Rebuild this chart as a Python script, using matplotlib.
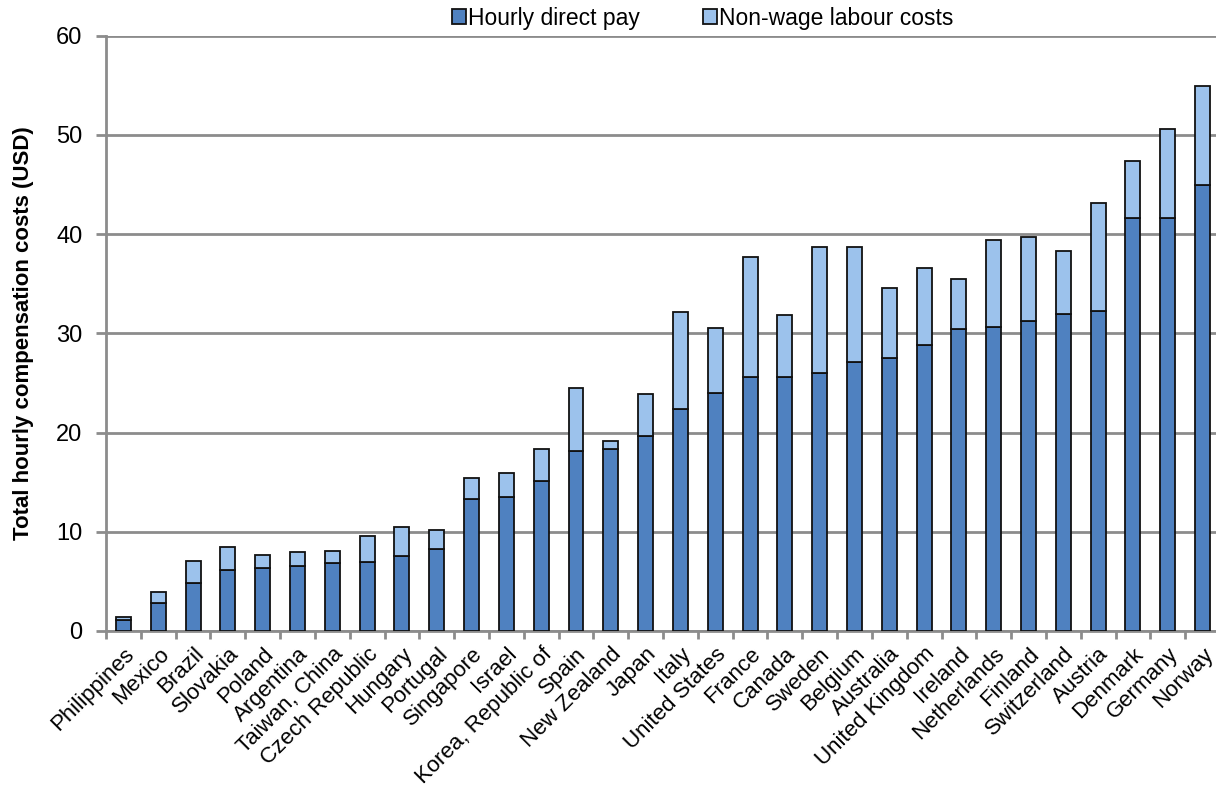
import numpy as np
import matplotlib
matplotlib.use("Agg")
import matplotlib.pyplot as plt
from matplotlib.patches import Patch

plt.rcParams["font.family"] = ["Liberation Sans", "DejaVu Sans"]

countries = [
    "Philippines", "Mexico", "Brazil", "Slovakia", "Poland", "Argentina",
    "Taiwan, China", "Czech Republic", "Hungary", "Portugal", "Singapore",
    "Israel", "Korea, Republic of", "Spain", "New Zealand", "Japan", "Italy",
    "United States", "France", "Canada", "Sweden", "Belgium", "Australia",
    "United Kingdom", "Ireland", "Netherlands", "Finland", "Switzerland",
    "Austria", "Denmark", "Germany", "Norway",
]

# hourly direct pay (USD)
direct_pay = [
    1.1, 2.8, 4.8, 6.1, 6.3, 6.5, 6.9, 7.0, 7.6, 8.3, 13.3,
    13.5, 15.1, 18.1, 18.3, 19.6, 22.4, 24.0, 25.6, 25.6, 26.0,
    27.1, 27.5, 28.8, 30.4, 30.6, 31.2, 31.9, 32.2, 41.6, 41.6, 44.9,
]

# non-wage labour costs (USD)
non_wage = [
    0.3, 1.1, 2.3, 2.4, 1.4, 1.5, 1.2, 2.6, 2.9, 1.9, 2.1,
    2.4, 3.2, 6.4, 0.8, 4.3, 9.7, 6.5, 12.1, 6.2, 12.7,
    11.6, 7.1, 7.8, 5.1, 8.8, 8.5, 6.4, 10.9, 5.8, 9.0, 10.0,
]

dark_blue = "#4f81c0"
light_blue = "#9cc2ec"
grid_grey = "#8c8c8c"

fig = plt.figure(figsize=(12.16, 7.89), dpi=100)
ax = fig.add_axes([0.0872, 0.2003, 0.9161, 0.7545])

x = np.arange(len(countries))
ax.bar(x, direct_pay, width=0.43, color=dark_blue, edgecolor="#111111",
       linewidth=1.3, zorder=3)
ax.bar(x, non_wage, width=0.43, bottom=direct_pay, color=light_blue,
       edgecolor="#111111", linewidth=1.3, zorder=3)

ax.set_xlim(-0.5, len(countries) - 0.5)
ax.set_ylim(0, 60)
ax.set_yticks(range(0, 61, 10))
ax.yaxis.grid(True, color=grid_grey, linewidth=2, zorder=0)

for side in ["top", "right"]:
    ax.spines[side].set_visible(False)
for side in ["left", "bottom"]:
    ax.spines[side].set_color(grid_grey)
    ax.spines[side].set_linewidth(2)

ax.set_xticks(x)
ax.set_xticklabels(countries, rotation=45, ha="right", rotation_mode="anchor",
                   fontsize=16)
ax.set_xticks(np.arange(-0.5, len(countries)), minor=True)
ax.tick_params(axis="x", which="major", length=0, pad=9)
ax.tick_params(axis="x", which="minor", length=6, width=2, color=grid_grey)
ax.tick_params(axis="y", length=7, width=2, color=grid_grey, labelsize=17,
               pad=10)

ax.set_ylabel("Total hourly compensation costs (USD)", fontsize=16,
              fontweight="bold", labelpad=16)

handles = [Patch(facecolor=dark_blue, edgecolor="#111111", linewidth=1.3),
           Patch(facecolor=light_blue, edgecolor="#111111", linewidth=1.3)]
fig.legend(handles, ["Hourly direct pay", "Non-wage labour costs"],
           loc="center", bbox_to_anchor=(0.578, 0.977), ncol=2, frameon=False,
           fontsize=16.5, handlelength=0.6, handleheight=0.6,
           handletextpad=0.1, columnspacing=2.75)

fig.savefig("out.png", dpi=100)
